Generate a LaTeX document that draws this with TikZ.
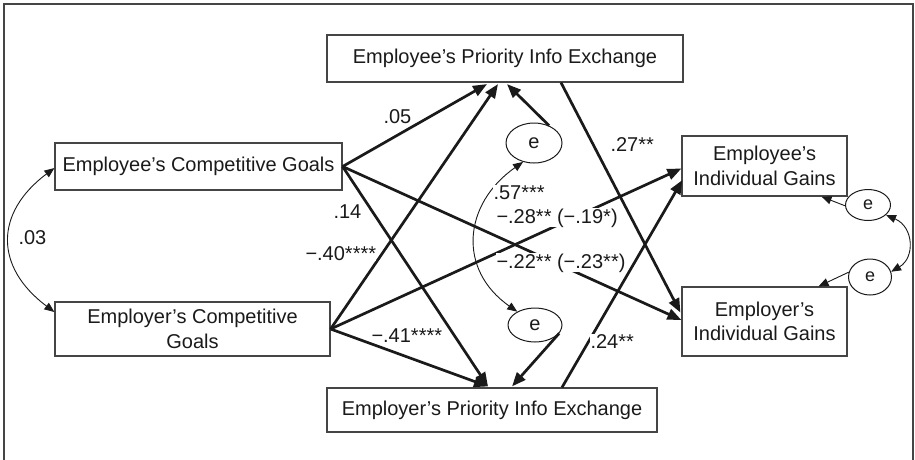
\documentclass[tikz,border=0pt]{standalone}
\usepackage{fontspec}
\setmainfont{Liberation Sans}
\usetikzlibrary{arrows.meta,shapes.geometric,calc}

\definecolor{ink}{HTML}{1A1A1A}
\definecolor{frameink}{HTML}{454545}

\begin{document}
\begin{tikzpicture}[x=1pt,y=-1pt,
  every node/.style={font=\fontsize{20}{24.5}\selectfont, text=ink},
  box/.style={draw=frameink, line width=1.2pt, rectangle, inner sep=0pt, align=center},
  err/.style={draw=ink, line width=1pt, ellipse, inner sep=0pt},
  smallerr/.style={err, font=\fontsize{18}{20}\selectfont},
  thickarrow/.style={draw=ink, line width=2.7pt, -{Triangle[length=14pt,width=11pt]}},
  thinarrow/.style={draw=ink, line width=0.9pt, -{Triangle[length=10pt,width=8pt]}},
  covar/.style={draw=ink, line width=0.9pt, {Triangle[length=10pt,width=8pt]}-{Triangle[length=10pt,width=8pt]}},
  coef/.style={fill=white, inner sep=0.3pt, anchor=base west},
]
\useasboundingbox (0,0) rectangle (915,459);

% outer frame (open at the bottom)
\draw[frameink, line width=1.6pt] (4,462) -- (4,4) -- (913,4) -- (913,462);

% variables
\node[box, minimum width=356pt, minimum height=47pt] (epie) at (505,58.5) {Employee’s Priority Info Exchange};
\node[box, minimum width=287pt, minimum height=47pt] (ecg) at (198.5,166.5) {Employee’s Competitive Goals};
\node[box, minimum width=275pt, minimum height=54pt] (rcg) at (192.5,329) {Employer’s Competitive\\Goals};
\node[box, minimum width=330pt, minimum height=44pt] (rpie) at (492,410) {Employer’s Priority Info Exchange};
\node[box, minimum width=165pt, minimum height=60pt] (eig) at (764.5,166) {Employee’s\\Individual Gains};
\node[box, minimum width=165pt, minimum height=69pt] (rig) at (764.5,321.5) {Employer’s\\Individual Gains};

% error terms
\node[err, minimum width=56pt, minimum height=40pt] (et) at (534,143) {e};
\node[err, minimum width=54pt, minimum height=34pt] (eb) at (535,325) {e};
\node[smallerr, minimum width=45pt, minimum height=31pt] (er1) at (868,205) {e};
\node[smallerr, minimum width=43pt, minimum height=36pt] (er2) at (870,277) {e};

% paths into the priority info exchange
\draw[thickarrow] (ecg.east) -- ($(epie.south)+(-18,1.5)$);
\draw[thickarrow] (rcg.east) -- ($(epie.south)+(-7,1.5)$);
\draw[thickarrow] (et.49) -- ($(epie.south)+(2,1.5)$);
\draw[thickarrow] (ecg.east) -- ($(rpie.north)+(-4,-1)$);
\draw[thickarrow] (rcg.east) -- ($(rpie.north)+(-4,-1)$);
\draw[thickarrow] (eb.-19) -- ($(rpie.north)+(20,-1)$);

% paths into the individual gains
\draw[thickarrow] (ecg.east) -- ($(rig.west)+(0,-1.5)$);
\draw[thickarrow] (rcg.east) -- ($(eig.west)+(0,2.5)$);
\draw[thickarrow] ($(epie.south)+(56,0)$) -- ($(rig.west)+(-1,-9)$);
\draw[thickarrow] ($(rpie.north)+(70,0)$) -- ($(eig.west)+(1,14)$);

% residuals of the gains
\draw[thinarrow] (er1.182) -- ($(eig.south)+(57,0)$);
\draw[thinarrow] (er2.167) -- ($(rig.north)+(54,0)$);

% covariances
\draw[covar] ($(ecg.west)+(0,1.5)$) .. controls +(-60,45) and +(-60,-45) .. ($(rcg.west)+(0,-17)$);
\draw[covar] (et.240) .. controls +(-60,42) and +(-60,-42) .. (eb.143);
\draw[covar] (er1.-29) .. controls +(28,12) and +(24,-14) .. (er2.14);

% coefficients
\node[coef] (l05) at (383,123) {.05};
\node[coef] (l14) at (333,218) {.14};
\node[coef] (l40) at (305,260) {−.40****};
\node[coef] (l41) at (371,342) {−.41****};
\node[coef] (l57) at (493,199) {.57***};
\node[coef] (l28) at (496,223) {−.28** (−.19*)};
\node[coef] (l22) at (496,268) {−.22** (−.23**)};
\node[coef] (l27) at (610,151) {.27**};
\node[coef] (l24) at (590,348) {.24**};
\node[coef] (l03) at (18,244) {.03};
\end{tikzpicture}
\end{document}
